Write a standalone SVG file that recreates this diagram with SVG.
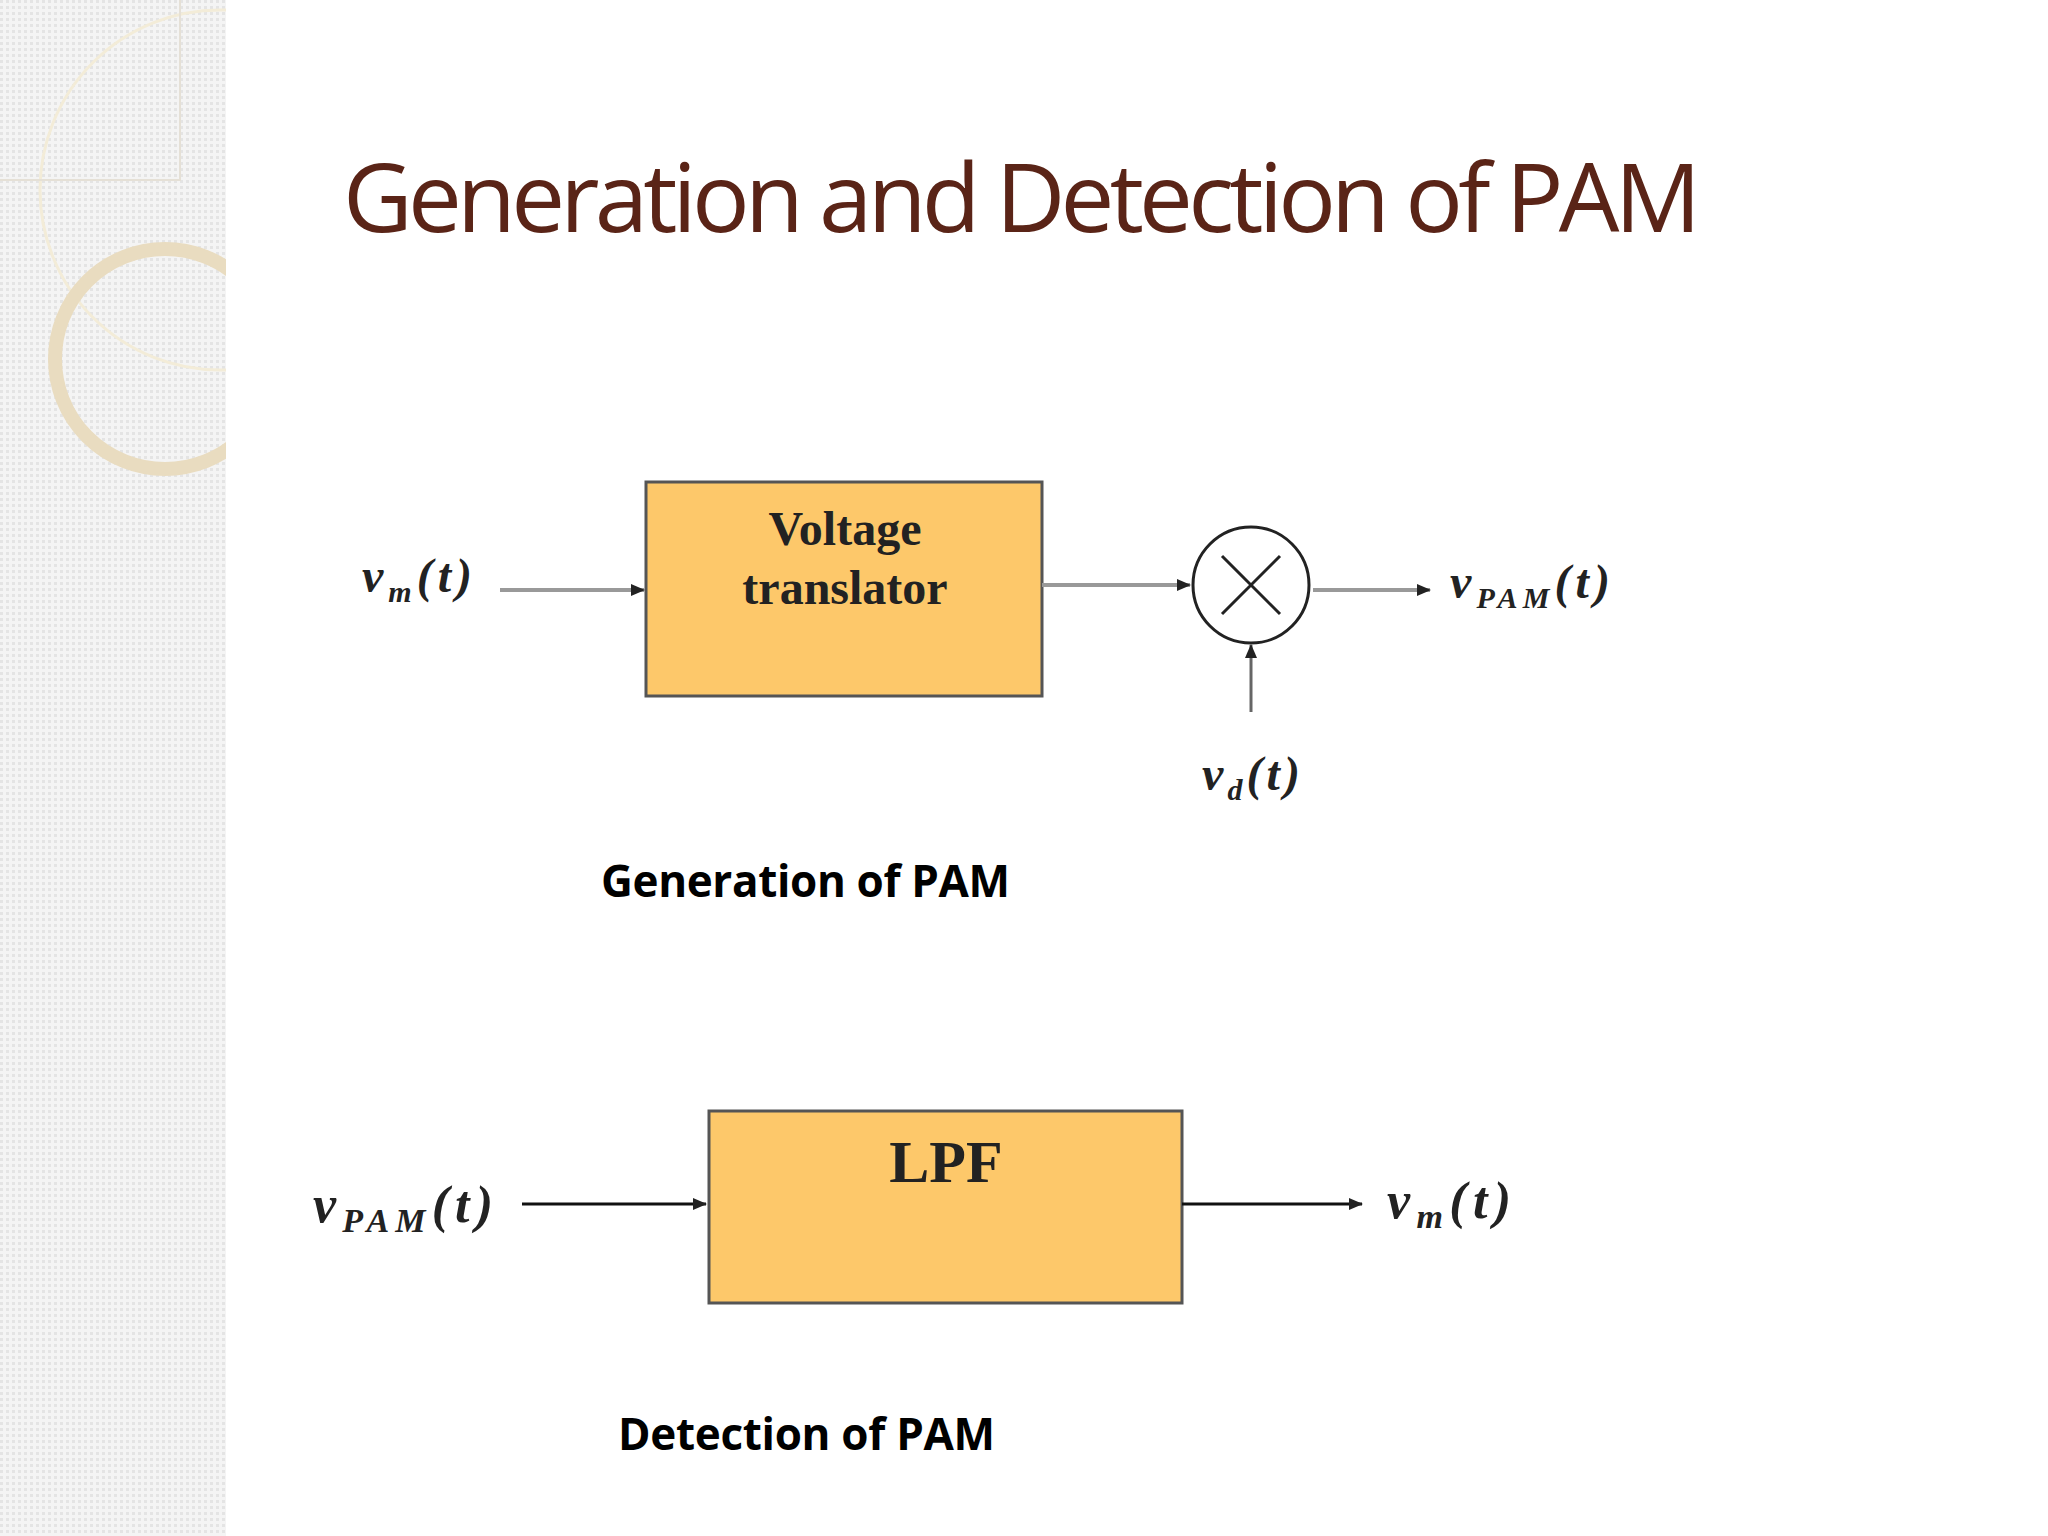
<svg xmlns="http://www.w3.org/2000/svg" width="2048" height="1536" viewBox="0 0 2048 1536">
<defs>
<pattern id="dots" width="6" height="6" patternUnits="userSpaceOnUse"><rect width="6" height="6" fill="#f4f4f4"/><rect width="3" height="3" fill="#e4e4e4"/></pattern>
<marker id="ah" markerWidth="14" markerHeight="12" refX="13" refY="6" orient="auto" markerUnits="userSpaceOnUse"><path d="M0,0 L14,6 L0,12 z" fill="#222"/></marker>
<clipPath id="side"><rect width="226" height="1536"/></clipPath>
</defs>
<style>
.box{fill:#fdc86a;stroke:#555;stroke-width:3}
.ln{stroke:#999;stroke-width:4;fill:none;marker-end:url(#ah)}
.lb{stroke:#111;stroke-width:3;fill:none;marker-end:url(#ah)}
.m{font-family:"Liberation Serif",serif;font-style:italic;font-weight:bold;fill:#222}
.bt{font-family:"Liberation Serif",serif;font-weight:bold;fill:#222;text-anchor:middle}
.cap{font-family:"Open Sans","Noto Sans",sans-serif;font-weight:bold;font-size:44px;fill:#000}
</style>
<rect width="2048" height="1536" fill="#fff"/>
<g id="sidebar" clip-path="url(#side)">
<rect width="226" height="1536" fill="url(#dots)"/>
<circle cx="220" cy="190" r="180" fill="none" stroke="#f3ecd8" stroke-width="3"/>
<circle cx="165" cy="359" r="110" fill="none" stroke="#e9dcc0" stroke-width="14"/>
<path d="M0,180 L180,180 L180,0" fill="none" stroke="#e5e0d6" stroke-width="2"/>
</g>
<text x="343" y="232" font-family="'Open Sans',sans-serif" font-size="96" fill="#5a2417" style="font-variant-ligatures:none" textLength="1358">Generation and Detection of PAM</text>
<g id="voltage-translator"><rect class="box" x="646" y="482" width="396" height="214"/>
<text class="bt" x="845" y="545" font-size="48">Voltage</text>
<text class="bt" x="845" y="604" font-size="48">translator</text></g>
<g id="multiplier"><circle cx="1251" cy="585" r="58" fill="#fff" stroke="#222" stroke-width="3"/>
<path d="M1222,556 L1280,614 M1280,556 L1222,614" stroke="#222" stroke-width="3"/></g>
<g id="lpf"><rect class="box" x="709" y="1111" width="473" height="192" stroke="#111"/>
<text class="bt" x="946" y="1182" font-size="60">LPF</text></g>
<g id="connectors">
<line class="ln" x1="500" y1="590" x2="644" y2="590"/>
<line class="ln" x1="1042" y1="585" x2="1190" y2="585"/>
<line class="ln" x1="1313" y1="590" x2="1430" y2="590"/>
<line class="ln" x1="1251" y1="712" x2="1251" y2="645" style="stroke:#666;stroke-width:3"/>
<line class="lb" x1="522" y1="1204" x2="706" y2="1204"/>
<line class="lb" x1="1182" y1="1204" x2="1362" y2="1204"/>
</g>
<g id="labels">
<text class="m" x="362" y="592" font-size="48" textLength="110">v<tspan font-size="30" dy="10">m</tspan><tspan dy="-10">(t)</tspan></text>
<text class="m" x="1450" y="598" font-size="48" textLength="160">v<tspan font-size="30" dy="10">PAM</tspan><tspan dy="-10">(t)</tspan></text>
<text class="m" x="1202" y="790" font-size="48" textLength="98">v<tspan font-size="30" dy="10">d</tspan><tspan dy="-10">(t)</tspan></text>
<text class="m" x="313" y="1222" font-size="52" textLength="180">v<tspan font-size="34" dy="10">PAM</tspan><tspan dy="-10">(t)</tspan></text>
<text class="m" x="1387" y="1218" font-size="52" textLength="124">v<tspan font-size="34" dy="10">m</tspan><tspan dy="-10">(t)</tspan></text>
</g>
<text class="cap" x="601" y="897" textLength="409">Generation of PAM</text>
<text class="cap" x="618" y="1450" textLength="377">Detection of PAM</text>
</svg>
